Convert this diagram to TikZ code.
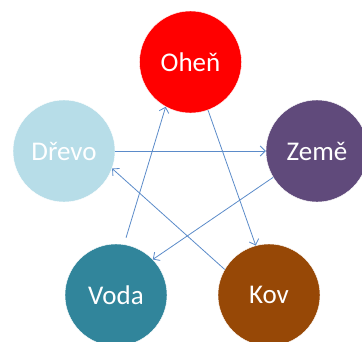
\documentclass[tikz,border=0pt]{standalone}
\usepackage{fontspec}
\setmainfont{Carlito}
\usetikzlibrary{arrows.meta}
\definecolor{cOhen}{RGB}{255,0,0}
\definecolor{cDrevo}{RGB}{183,221,232}
\definecolor{cZeme}{RGB}{96,74,123}
\definecolor{cVoda}{RGB}{49,133,155}
\definecolor{cKov}{RGB}{151,72,6}
\definecolor{cArrow}{RGB}{91,139,201}
\tikzset{
  element/.style={circle, minimum size=102pt, inner sep=0pt, text=white,
    font=\fontsize{27pt}{30pt}\selectfont, draw=white, line width=0.4pt},
  link/.style={draw=cArrow, line width=0.8pt, -{Straight Barb[length=5pt,width=10pt]}}
}
\begin{document}
\begin{tikzpicture}[x=1pt,y=-1pt]
\useasboundingbox (0,0) rectangle (362,341);
\clip (0,0) rectangle (362,341);
\node[element, fill=cOhen]  (ohen)  at (190.5,62) {Oheň};
\node[element, fill=cDrevo] (drevo) at (64,151)  {Dřevo};
\node[element, fill=cZeme]  (zeme)  at (317,151) {Země};
\node[element, fill=cVoda]  (voda)  at (116,295) {Voda};
\node[element, fill=cKov]   (kov)   at (269,295) {Kov};
\draw[link] (drevo.0) -- (zeme.180);
\draw[link] (ohen.290) -- (kov.105);
\draw[link] (zeme.211) -- (voda.44);
\draw[link] (kov.150) -- (drevo.340);
\draw[link, shorten <=7pt] (voda.81) -- (ohen.241);
\end{tikzpicture}
\end{document}
